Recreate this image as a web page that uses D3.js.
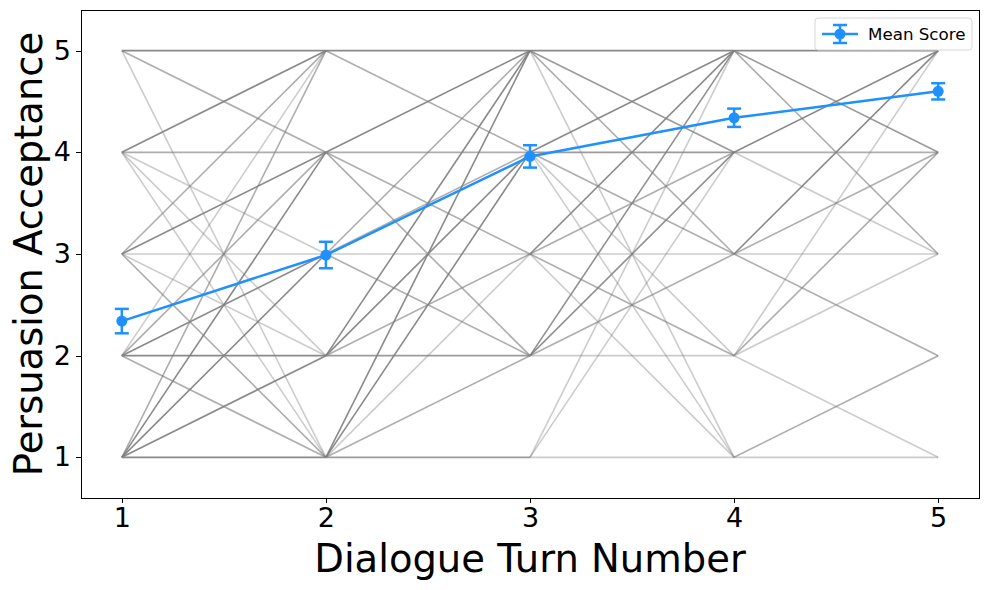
<!DOCTYPE html>
<html>
<head>
<meta charset="utf-8">
<script src="https://cdn.jsdelivr.net/npm/d3@7"></script>
<style>
    body { margin: 0; background: #fff; }
    text { font-family: "DejaVu Sans", sans-serif; }
</style>
</head>
<body>
<svg id="drawing_chart"></svg>
<script>
// turn numbers and mean score per turn
const turns = [1, 2, 3, 4, 5];
const meanScores = [2.34, 2.99, 3.96, 4.34, 4.60];
const meanErrors = [0.12, 0.13, 0.11, 0.09, 0.08];
const yTicks = [1, 2, 3, 4, 5];

// individual moves between turns: [from score, to score, participants]
const steps12 = [
    [5,5,5],[5,4,2],[5,1,1],
    [4,5,5],[4,4,2],[4,3,1],[4,2,1],[4,1,1],
    [3,5,2],[3,4,5],[3,3,1],[3,2,1],[3,1,2],
    [2,5,1],[2,4,2],[2,3,5],[2,2,5],[2,1,2],
    [1,5,2],[1,4,5],[1,3,5],[1,2,5],[1,1,5]
];
const steps23 = [
    [5,5,5],[5,4,2],
    [4,5,5],[4,4,2],[4,3,2],[4,2,2],
    [3,5,2],[3,4,2],[3,3,1],[3,2,2],
    [2,5,5],[2,4,5],[2,3,2],[2,2,3],
    [1,5,5],[1,4,5],[1,3,1],[1,2,2],[1,1,3]
];
const steps34 = [
    [5,5,5],[5,4,3],[5,3,2],[5,1,1],
    [4,5,5],[4,4,3],[4,3,2],[4,2,1],[4,1,1],
    [3,5,5],[3,4,2],[3,3,1],[3,2,2],[3,1,1],
    [2,5,4],[2,4,4],[2,3,2],[2,2,1],
    [1,5,1],[1,4,1],[1,1,1]
];
const steps45 = [
    [5,5,5],[5,4,3],[5,3,2],
    [4,5,5],[4,4,2],[4,3,1],
    [3,5,5],[3,4,2],[3,3,1],[3,2,2],
    [2,5,1],[2,4,2],[2,3,1],[2,1,1],
    [1,2,2],[1,1,1]
];
const allSteps = [steps12, steps23, steps34, steps45];

class TrajectoryChart {
    constructor( config ) {
        this.config = config;
    }

    init() {
        let self = this;
        const m = self.config.margin;

        self.svg = d3.select( self.config.parent )
            .attr('width', self.config.width)
            .attr('height', self.config.height);

        self.inner_width = self.config.width - m.left - m.right;
        self.inner_height = self.config.height - m.top - m.bottom;

        self.chart = self.svg.append('g')
            .attr('transform', `translate(${m.left}, ${m.top})`);

        self.xscale = d3.scaleLinear().domain([0.8, 5.2]).range([0, self.inner_width]);
        self.yscale = d3.scaleLinear().domain([0.6, 5.4]).range([self.inner_height, 0]);

        self.render();
    }

    render() {
        let self = this;
        const blue = '#1e90ff';

        // segments: one line per move, darker when more people took it
        const segs = [];
        allSteps.forEach( (steps, i) => {
            steps.forEach( s => segs.push({ t: turns[i], from: s[0], to: s[1], n: s[2] }) );
        });

        self.chart.append('g')
            .selectAll('line')
            .data(segs)
            .join('line')
            .attr('x1', d => self.xscale(d.t))
            .attr('x2', d => self.xscale(d.t + 1))
            .attr('y1', d => self.yscale(d.from))
            .attr('y2', d => self.yscale(d.to))
            .attr('stroke', '#808080')
            .attr('stroke-width', 1.6)
            .attr('stroke-opacity', d => 1 - Math.pow(0.6, d.n));

        // mean line with error bars
        const line = d3.line()
            .x((d, i) => self.xscale(turns[i]))
            .y(d => self.yscale(d));

        self.chart.append('path')
            .datum(meanScores)
            .attr('d', line)
            .attr('fill', 'none')
            .attr('stroke', blue)
            .attr('stroke-width', 2.5);

        const eb = self.chart.append('g')
            .selectAll('g')
            .data(turns)
            .join('g');

        eb.append('line')
            .attr('x1', d => self.xscale(d)).attr('x2', d => self.xscale(d))
            .attr('y1', (d, i) => self.yscale(meanScores[i] - meanErrors[i]))
            .attr('y2', (d, i) => self.yscale(meanScores[i] + meanErrors[i]))
            .attr('stroke', blue).attr('stroke-width', 2.5);

        [-1, 1].forEach( sgn => {
            eb.append('line')
                .attr('x1', d => self.xscale(d) - 7).attr('x2', d => self.xscale(d) + 7)
                .attr('y1', (d, i) => self.yscale(meanScores[i] + sgn * meanErrors[i]))
                .attr('y2', (d, i) => self.yscale(meanScores[i] + sgn * meanErrors[i]))
                .attr('stroke', blue).attr('stroke-width', 2.5);
        });

        eb.append('circle')
            .attr('cx', d => self.xscale(d))
            .attr('cy', (d, i) => self.yscale(meanScores[i]))
            .attr('r', 5.5)
            .attr('fill', blue);

        // axes
        const xaxis = d3.axisBottom(self.xscale).tickValues(turns).tickFormat(d3.format('d')).tickSize(5).tickPadding(5);
        const yaxis = d3.axisLeft(self.yscale).tickValues(yTicks).tickFormat(d3.format('d')).tickSize(5).tickPadding(5);

        const xg = self.chart.append('g')
            .attr('transform', `translate(0, ${self.inner_height})`)
            .call(xaxis);
        const yg = self.chart.append('g').call(yaxis);

        [xg, yg].forEach( g => {
            g.select('.domain').remove();
            g.selectAll('.tick line').attr('stroke', '#000').attr('stroke-width', 1)
                .attr('shape-rendering', 'crispEdges');
            g.selectAll('.tick text')
                .attr('fill', '#000')
                .style('font-size', '27px')
                .style('font-family', '"DejaVu Sans", sans-serif');
        });

        // frame
        self.chart.append('rect')
            .attr('width', self.inner_width)
            .attr('height', self.inner_height)
            .attr('fill', 'none')
            .attr('stroke', '#000')
            .attr('stroke-width', 1)
            .attr('shape-rendering', 'crispEdges');

        // axis titles
        self.svg.append('text')
            .attr('x', self.config.margin.left + self.inner_width / 2)
            .attr('y', 572)
            .attr('text-anchor', 'middle')
            .style('font-size', '38.5px')
            .text('Dialogue Turn Number');

        self.svg.append('text')
            .attr('transform', `translate(42, ${self.config.margin.top + self.inner_height / 2}) rotate(-90)`)
            .attr('text-anchor', 'middle')
            .style('font-size', '38.5px')
            .text('Persuasion Acceptance');

        // legend
        const lg = self.svg.append('g').attr('transform', 'translate(815, 18)');
        lg.append('rect')
            .attr('width', 157).attr('height', 32).attr('rx', 3)
            .attr('fill', '#fff').attr('fill-opacity', 0.8)
            .attr('stroke', '#d6d6d6');
        lg.append('line')
            .attr('x1', 7).attr('x2', 43).attr('y1', 16).attr('y2', 16)
            .attr('stroke', blue).attr('stroke-width', 2.5);
        lg.append('line')
            .attr('x1', 25).attr('x2', 25).attr('y1', 7).attr('y2', 25)
            .attr('stroke', blue).attr('stroke-width', 2.5);
        [7, 25].forEach( y => {
            lg.append('line')
                .attr('x1', 18).attr('x2', 32).attr('y1', y).attr('y2', y)
                .attr('stroke', blue).attr('stroke-width', 2.5);
        });
        lg.append('circle').attr('cx', 25).attr('cy', 16).attr('r', 5.5).attr('fill', blue);
        lg.append('text')
            .attr('x', 53).attr('y', 22)
            .style('font-size', '16.7px')
            .text('Mean Score');
    }
}

const chart = new TrajectoryChart({
    parent: '#drawing_chart',
    width: 989,
    height: 590,
    margin: {top: 10, right: 10, bottom: 92, left: 81}
});
chart.init();
</script>
</body>
</html>
